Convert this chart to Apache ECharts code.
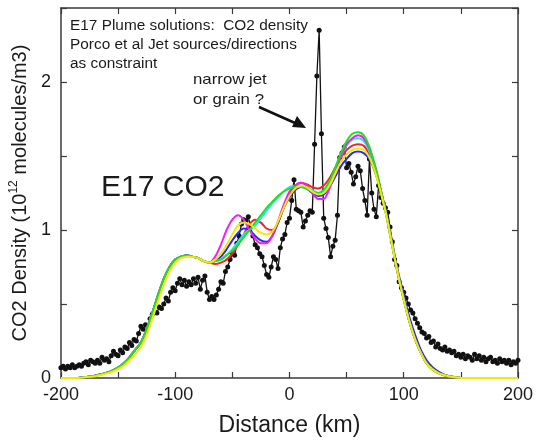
<!DOCTYPE html>
<html>
<head>
<meta charset="utf-8">
<script src="https://cdn.jsdelivr.net/npm/echarts@6/dist/echarts.min.js"></script>
<style>
  html, body { margin: 0; padding: 0; background: #fff; }
  #chart { width: 536px; height: 442px; }
</style>
</head>
<body>
<div id="chart"></div>
<script>
// measured CO2 density, one point every 2 km from -200 to 200 km
const obsStart = -200;
const obsStep = 2;
const obsDensity = [
  0.07, 0.08, 0.06, 0.08, 0.07, 0.09, 0.07, 0.08, 0.09, 0.08,
  0.10, 0.11, 0.09, 0.12, 0.11, 0.10, 0.12, 0.10, 0.14, 0.12,
  0.13, 0.11, 0.15, 0.18, 0.16, 0.15, 0.19, 0.17, 0.21, 0.20,
  0.24, 0.22, 0.26, 0.25, 0.30, 0.35, 0.33, 0.36, 0.35, 0.40,
  0.43, 0.45, 0.44, 0.48, 0.47, 0.50, 0.54, 0.52, 0.58, 0.61,
  0.59, 0.64, 0.67, 0.63, 0.66, 0.62, 0.65, 0.63, 0.67, 0.64,
  0.68, 0.60, 0.66, 0.69, 0.58, 0.53, 0.55, 0.53, 0.56, 0.60,
  0.65, 0.64, 0.72, 0.75, 0.80, 0.84, 0.83, 0.91, 0.96, 1.04,
  1.07, 1.06, 1.09, 1.02, 0.96, 0.90, 0.88, 0.84, 0.82, 0.76,
  0.70, 0.68, 0.75, 0.82, 0.80, 0.74, 0.88, 0.94, 0.97, 1.05,
  1.08, 1.20, 1.34, 1.14, 1.13, 1.12, 1.02, 1.06, 1.10, 1.13,
  1.12, 1.58, 2.04, 2.35, 1.65, 1.08, 1.01, 0.95, 0.82, 0.89,
  0.93, 1.10, 1.49, 1.52, 1.56, 1.42, 1.45, 1.39, 1.31, 1.36,
  1.43, 1.40, 1.28, 1.20, 1.10, 1.48, 1.25, 1.14, 1.09, 1.30,
  1.22, 1.18, 1.15, 1.12, 1.02, 0.92, 0.80, 0.76, 0.65, 0.61,
  0.58, 0.54, 0.50, 0.46, 0.44, 0.40, 0.37, 0.34, 0.31, 0.30,
  0.27, 0.28, 0.24, 0.25, 0.21, 0.23, 0.20, 0.19, 0.21, 0.18,
  0.19, 0.17, 0.18, 0.15, 0.16, 0.14, 0.16, 0.13, 0.15, 0.14,
  0.12, 0.16, 0.13, 0.15, 0.12, 0.14, 0.11, 0.13, 0.14, 0.11,
  0.12, 0.10, 0.13, 0.11, 0.12, 0.10, 0.12, 0.09, 0.11, 0.10,
  0.12
];

// model solutions, one point every 5 km from -200 to 200 km
const modelStart = -200;
const modelStep = 5;
// wings: -200..-70 and 100..200
const modelLeftWing = [
  0, 0, 0, 0, 0.005, 0.01, 0.015, 0.025, 0.035, 0.05,
  0.07, 0.10, 0.14, 0.19, 0.24, 0.33, 0.44, 0.56, 0.67, 0.75,
  0.80, 0.82, 0.83, 0.82, 0.81, 0.79, 0.78
];
const yellowLeftWing = [
  0, 0, 0, 0, 0.004, 0.008, 0.012, 0.02, 0.03, 0.042,
  0.06, 0.085, 0.12, 0.16, 0.21, 0.29, 0.40, 0.52, 0.63, 0.72,
  0.78, 0.81, 0.82, 0.82, 0.81, 0.79, 0.78
];
const modelRightWing = [
  0.53, 0.38, 0.26, 0.17, 0.10, 0.06, 0.035, 0.02, 0.01, 0.005,
  0, 0, 0, 0, 0, 0, 0, 0, 0, 0, 0
];
const blueRightWing = [
  0.56, 0.41, 0.29, 0.19, 0.12, 0.075, 0.045, 0.025, 0.012, 0.006,
  0, 0, 0, 0, 0, 0, 0, 0, 0, 0, 0
];
// middle parts: -65..95
const redMid = [
  0.77, 0.78, 0.80, 0.84, 0.90, 0.97, 1.04, 1.07, 1.05, 1.01,
  1.00, 1.05, 1.15, 1.24, 1.30, 1.32, 1.31, 1.29, 1.28, 1.30,
  1.35, 1.42, 1.49, 1.54, 1.57, 1.58, 1.57, 1.51, 1.40, 1.26,
  1.09, 0.89, 0.70
];
const greenMid = [
  0.79, 0.80, 0.83, 0.86, 0.90, 0.95, 1.00, 1.05, 1.10, 1.15,
  1.19, 1.23, 1.26, 1.28, 1.29, 1.29, 1.28, 1.26, 1.25, 1.27,
  1.33, 1.42, 1.52, 1.60, 1.65, 1.66, 1.64, 1.56, 1.43, 1.27,
  1.10, 0.90, 0.70
];
const blueMid = [
  0.79, 0.82, 0.87, 0.93, 0.98, 1.01, 1.00, 0.96, 0.93, 0.92,
  0.96, 1.05, 1.15, 1.22, 1.27, 1.29, 1.28, 1.25, 1.23, 1.24,
  1.29, 1.36, 1.43, 1.48, 1.52, 1.53, 1.52, 1.48, 1.39, 1.26,
  1.10, 0.91, 0.72
];
const cyanMid = [
  0.79, 0.80, 0.83, 0.87, 0.92, 0.97, 1.00, 1.03, 1.08, 1.13,
  1.18, 1.22, 1.26, 1.29, 1.30, 1.30, 1.29, 1.27, 1.25, 1.26,
  1.32, 1.41, 1.50, 1.57, 1.61, 1.62, 1.60, 1.53, 1.41, 1.26,
  1.09, 0.89, 0.70
];
const magentaMid = [
  0.82, 0.90, 1.00, 1.07, 1.10, 1.07, 1.00, 0.94, 0.91, 0.91,
  0.96, 1.06, 1.17, 1.26, 1.30, 1.32, 1.30, 1.25, 1.21, 1.21,
  1.28, 1.39, 1.50, 1.58, 1.62, 1.64, 1.62, 1.55, 1.43, 1.27,
  1.10, 0.90, 0.70
];
const yellowMid = [
  0.80, 0.84, 0.90, 0.97, 1.03, 1.05, 1.04, 1.01, 0.98, 0.97,
  0.99, 1.06, 1.15, 1.23, 1.28, 1.30, 1.29, 1.26, 1.24, 1.25,
  1.30, 1.38, 1.46, 1.51, 1.54, 1.55, 1.54, 1.49, 1.39, 1.25,
  1.09, 0.89, 0.70
];

const xTicks = [-200, -100, 0, 100, 200];
const yTicks = [0, 1, 2];

// drawing order: later ones on top
const models = [
  { name: 'red', color: '#ff2020', left: modelLeftWing, mid: redMid, right: modelRightWing },
  { name: 'blue', color: '#2a2aff', left: modelLeftWing, mid: blueMid, right: blueRightWing },
  { name: 'cyan', color: '#20e8f0', left: modelLeftWing, mid: cyanMid, right: modelRightWing },
  { name: 'magenta', color: '#f020f0', left: modelLeftWing, mid: magentaMid, right: modelRightWing },
  { name: 'green', color: '#20e020', left: modelLeftWing, mid: greenMid, right: modelRightWing },
  { name: 'yellow', color: '#f2ea00', left: yellowLeftWing, mid: yellowMid, right: modelRightWing }
];

const obsData = obsDensity.map((v, i) => [obsStart + i * obsStep, v]);

const modelSeries = models.map(m => {
  const vals = m.left.concat(m.mid, m.right);
  return {
    name: m.name,
    type: 'line',
    data: vals.map((v, i) => [modelStart + i * modelStep, v]),
    smooth: 0.3,
    showSymbol: false,
    lineStyle: { color: m.color, width: 2 },
    z: 3
  };
});

const font = 'Liberation Sans, Arial, sans-serif';
const axisColor = '#3a3a3a';

const chart = echarts.init(document.getElementById('chart'));

const baseX = {
  type: 'value',
  min: -200,
  max: 200,
  interval: 50,
  axisLine: { show: true, onZero: false, lineStyle: { color: axisColor, width: 1.5 } },
  axisTick: { show: true, inside: true, length: 6, lineStyle: { color: axisColor, width: 1.2 } },
  splitLine: { show: false }
};
const baseY = {
  type: 'value',
  min: 0,
  max: 2.5,
  interval: 0.5,
  axisLine: { show: true, onZero: false, lineStyle: { color: axisColor, width: 1.5 } },
  axisTick: { show: true, inside: true, length: 6, lineStyle: { color: axisColor, width: 1.2 } },
  splitLine: { show: false }
};

chart.setOption({
  animation: false,
  backgroundColor: '#fff',
  grid: { left: 58, right: 18, top: 8, bottom: 63 },
  xAxis: [
    Object.assign({}, baseX, {
      position: 'bottom',
      name: 'Distance (km)',
      nameLocation: 'middle',
      nameGap: 36,
      nameTextStyle: { fontFamily: font, fontSize: 23, color: '#1a1a1a' },
      axisLabel: {
        margin: 8,
        fontFamily: font,
        fontSize: 18,
        color: '#1a1a1a',
        formatter: v => (xTicks.indexOf(v) >= 0 ? String(v) : '')
      }
    }),
    Object.assign({}, baseX, { position: 'top', axisLabel: { show: false } })
  ],
  yAxis: [
    Object.assign({}, baseY, {
      position: 'left',
      name: '{a|CO2 Density (10}{s|12}{a| molecules/m3)}',
      nameLocation: 'middle',
      nameGap: 28,
      nameTextStyle: {
        fontFamily: font,
        color: '#1a1a1a',
        rich: {
          a: { fontFamily: font, fontSize: 20, color: '#1a1a1a', lineHeight: 24 },
          s: { fontFamily: font, fontSize: 12, color: '#1a1a1a', verticalAlign: 'top', lineHeight: 14, padding: [0, 0, 10, 0] }
        }
      },
      axisLabel: {
        margin: 10,
        fontFamily: font,
        fontSize: 18,
        color: '#1a1a1a',
        formatter: v => (yTicks.indexOf(v) >= 0 ? String(v) : '')
      }
    }),
    Object.assign({}, baseY, { position: 'right', axisLabel: { show: false } })
  ],
  series: modelSeries.concat([
    {
      name: 'observed',
      type: 'line',
      data: obsData,
      symbol: 'circle',
      symbolSize: 5,
      showSymbol: true,
      itemStyle: { color: '#111' },
      lineStyle: { color: '#111', width: 1.3 },
      z: 2
    }
  ]),
  graphic: [
    {
      type: 'text',
      left: 70,
      top: 17,
      scaleX: 1.1,
      style: {
        text: 'E17 Plume solutions:  CO2 density\nPorco et al Jet sources/directions\nas constraint',
        font: '14px ' + font,
        fill: '#1a1a1a',
        lineHeight: 19
      }
    },
    {
      type: 'text',
      left: 193,
      top: 70,
      scaleX: 1.12,
      style: {
        text: 'narrow jet\nor grain ?',
        font: '15px ' + font,
        fill: '#1a1a1a',
        lineHeight: 20
      }
    },
    {
      type: 'text',
      left: 101,
      top: 173,
      style: {
        text: 'E17 CO2',
        font: '30px ' + font,
        fill: '#1a1a1a'
      }
    },
    {
      type: 'line',
      shape: { x1: 259, y1: 107, x2: 295, y2: 123 },
      style: { stroke: '#111', lineWidth: 2.5 }
    },
    {
      type: 'polygon',
      shape: { points: [[306, 128], [292, 127], [297, 116]] },
      style: { fill: '#111' }
    }
  ]
});
</script>
</body>
</html>
